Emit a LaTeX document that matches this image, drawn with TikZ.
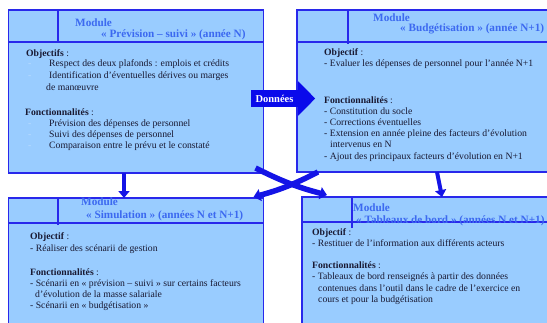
\documentclass[tikz,border=0pt]{standalone}
\usepackage{fontspec}
\setmainfont{Liberation Serif}
\usetikzlibrary{arrows.meta}
\definecolor{boxfill}{RGB}{153,204,255}
\definecolor{boxline}{RGB}{40,40,235}
\definecolor{headblue}{RGB}{60,105,240}
\definecolor{bodyink}{RGB}{25,25,50}
\definecolor{faint}{RGB}{185,220,255}
\definecolor{arrowblue}{RGB}{20,20,230}
\definecolor{datablue}{RGB}{10,10,235}
\tikzset{
  box/.style={draw=boxline, fill=boxfill, line width=1.2pt, anchor=north west, inner sep=0pt, outer sep=0pt},
  rule/.style={draw=boxline, line width=1.2pt},
  txt/.style={anchor=base west, inner sep=0pt, text=bodyink, font=\fontsize{9.7}{11}\selectfont},
  head/.style={anchor=base west, inner sep=0pt, text=headblue, font=\fontsize{11.2}{12}\selectfont\bfseries},
  downarrow/.style={draw=arrowblue, line width=4pt, -{Triangle[width=11pt,length=7pt]}},
  crossarrow/.style={draw=arrowblue, line width=5.5pt, -{Triangle[width=12pt,length=7pt]}},
}
\newcommand\blt[1]{\makebox[21pt][l]{\color{faint}-}#1}
\begin{document}
\begin{tikzpicture}[x=1pt,y=-1pt]
\useasboundingbox (0,0) rectangle (547,322);
\fill[white] (0,0) rectangle (547,322);
\clip (0,0) rectangle (547,322);

% ---- module boxes
\node[box, minimum width=255pt, minimum height=163pt] (b1) at (8.5,10) {};
\node[box, minimum width=300pt, minimum height=162pt] (b2) at (297,10) {};
\node[box, minimum width=255pt, minimum height=140pt] (b3) at (8.5,198) {};
\node[box, minimum width=300pt, minimum height=140pt] (b4) at (302,197) {};

% header rules
\draw[rule] ([yshift=-32pt]b1.north west) -- ([yshift=-32pt]b1.north east);
\draw[rule] ([xshift=49.5pt]b1.north west) -- ([xshift=49.5pt,yshift=-32pt]b1.north west);
\draw[rule] ([yshift=-32pt]b2.north west) -- ([yshift=-32pt]b2.north east);
\draw[rule] ([xshift=51pt]b2.north west) -- ([xshift=51pt,yshift=-34pt]b2.north west);
\draw[rule] ([yshift=-25pt]b3.north west) -- ([yshift=-25pt]b3.north east);
\draw[rule] ([xshift=49.5pt]b3.north west) -- ([xshift=49.5pt,yshift=-27pt]b3.north west);
\draw[rule] ([yshift=-25pt]b4.north west) -- ([yshift=-25pt]b4.north east);
\draw[rule] ([xshift=50pt]b4.north west) -- ([xshift=50pt,yshift=-31pt]b4.north west);

% ---- box 1
\node[head] (h1a) at (75,26) {Module};
\node[head] (h1b) at (101,37) {« Prévision – suivi » (année N)};
\node[txt] (t1a) at (26,56) {\textbf{Objectifs} :};
\node[txt] (t1b) at (28,66.5) {\blt{Respect des deux plafonds : emplois et crédits}};
\node[txt] (t1c) at (28,78) {\blt{Identification d’éventuelles dérives ou marges}};
\node[txt] (t1d) at (46,90) {de manœuvre};
\node[txt] (t1e) at (25,115) {\textbf{Fonctionnalités} :};
\node[txt] (t1f) at (28,126) {\blt{Prévision des dépenses de personnel}};
\node[txt] (t1g) at (28,137) {\blt{Suivi des dépenses de personnel}};
\node[txt] (t1h) at (28,148) {\blt{Comparaison entre le prévu et le constaté}};

% ---- box 2
\node[head] (h2a) at (373,21) {Module};
\node[head] (h2b) at (400,31) {« Budgétisation » (année N+1)};
\node[txt] (t2a) at (324,55) {\textbf{Objectif} :};
\node[txt] (t2b) at (324,66) {- Evaluer les dépenses de personnel pour l’année N+1};
\node[txt] (t2c) at (324,103) {\textbf{Fonctionnalités} :};
\node[txt] (t2d) at (324,114) {- Constitution du socle};
\node[txt] (t2e) at (324,125) {- Corrections éventuelles};
\node[txt] (t2f) at (324,136) {- Extension en année pleine des facteurs d’évolution};
\node[txt] (t2g) at (330,147) {intervenus en N};
\node[txt] (t2h) at (324,159) {- Ajout des principaux facteurs d’évolution en N+1};

% ---- box 3
\node[head] (h3a) at (81,205) {Module};
\node[head] (h3b) at (86,218) {« Simulation » (années N et N+1)};
\node[txt] (t3a) at (30,239) {\textbf{Objectif} :};
\node[txt] (t3b) at (30,251) {- Réaliser des scénarii de gestion};
\node[txt] (t3c) at (30,275) {\textbf{Fonctionnalités} :};
\node[txt] (t3d) at (30,286) {- Scénarii en « prévision – suivi » sur certains facteurs};
\node[txt] (t3e) at (35,297) {d’évolution de la masse salariale};
\node[txt] (t3f) at (30,308) {- Scénarii en « budgétisation »};

% ---- box 4
\node[head] (h4a) at (353,211) {Module};
\node[head] (h4b) at (356,223) {« Tableaux de bord » (années N et N+1)};
\node[txt] (t4a) at (312,235) {\textbf{Objectif} :};
\node[txt] (t4b) at (312,246) {- Restituer de l’information aux différents acteurs};
\node[txt] (t4c) at (312,268) {\textbf{Fonctionnalités} :};
\node[txt] (t4d) at (312,279) {- Tableaux de bord renseignés à partir des données};
\node[txt] (t4e) at (318,291) {contenues dans l’outil dans le cadre de l’exercice en};
\node[txt] (t4f) at (318,302) {cours et pour la budgétisation};

% ---- connectors
\draw[downarrow] ([xshift=-12pt]b1.south) -- ([xshift=-12pt]b3.north);
\draw[downarrow] ([xshift=-10pt]b2.south) -- ([xshift=-10pt]b4.north);
\draw[crossarrow] ([shift={(-8pt,5pt)}]b1.south east) to[bend right=6] ([shift={(25pt,2pt)}]b4.north west);
\draw[crossarrow] ([shift={(21pt,0pt)}]b2.south west) to[bend left=6] ([shift={(-10pt,1pt)}]b3.north east);

% ---- data transfer arrow
\node[fill=datablue, text=white, font=\fontsize{10.5}{11}\selectfont\bfseries,
      minimum width=47pt, minimum height=17pt, inner sep=0pt] (dn) at (274.5,98.5) {Données};
\fill[datablue] ([yshift=8.5pt]dn.north east) -- ([xshift=17pt]dn.east) -- ([yshift=-8.5pt]dn.south east) -- cycle;
\end{tikzpicture}
\end{document}
